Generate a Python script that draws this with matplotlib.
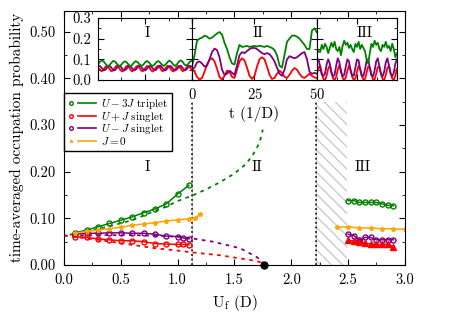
import numpy as np
import matplotlib
matplotlib.use('Agg')
import matplotlib.pyplot as plt
from matplotlib.lines import Line2D
from matplotlib.legend_handler import HandlerBase
from matplotlib.ticker import MultipleLocator

plt.rcParams['font.family'] = ['cmr10', 'DejaVu Serif']
plt.rcParams['mathtext.fontset'] = 'cm'
plt.rcParams['axes.unicode_minus'] = False
plt.rcParams['axes.formatter.use_mathtext'] = True
plt.rcParams['hatch.linewidth'] = 1.0

GREEN, RED, PURPLE, ORANGE = 'green', 'red', 'purple', 'orange'

# ---- main panel: region I (numerics) ----
u_trip_I = [0.1, 0.2, 0.3, 0.4, 0.5, 0.6, 0.7, 0.8, 0.9, 1.0, 1.1]
trip_I = [0.069, 0.075, 0.082, 0.089, 0.096, 0.103, 0.112, 0.120, 0.131, 0.152, 0.171]
u_sing_I = [0.1, 0.2, 0.3, 0.4, 0.5, 0.6, 0.7, 0.8, 0.9, 1.0, 1.05, 1.1]
plus_I = [0.061, 0.059, 0.056, 0.054, 0.052, 0.052, 0.050, 0.046, 0.045, 0.044, 0.044, 0.043]
minus_I = [0.066, 0.068, 0.068, 0.069, 0.069, 0.068, 0.068, 0.066, 0.062, 0.061, 0.058, 0.056]
u_j0_I = [0.1, 0.2, 0.3, 0.4, 0.5, 0.6, 0.7, 0.8, 0.9, 1.0, 1.1, 1.15, 1.2]
j0_I = [0.068, 0.072, 0.075, 0.078, 0.081, 0.085, 0.088, 0.091, 0.094, 0.097, 0.099, 0.100, 0.109]

# ---- main panel: analytic curves (dashed) ----
u_trip_th = [0.05, 0.2, 0.4, 0.6, 0.8, 0.9, 1.0, 1.14, 1.25, 1.37, 1.5, 1.6, 1.66, 1.7, 1.73, 1.75]
trip_th = [0.065, 0.072, 0.083, 0.096, 0.116, 0.125, 0.137, 0.150, 0.162, 0.177, 0.196, 0.216,
           0.235, 0.252, 0.270, 0.290]
u_plus_th = [0.0, 0.3, 0.58, 0.8, 1.0, 1.13, 1.37, 1.5, 1.61, 1.7, 1.74, 1.76]
plus_th = [0.063, 0.054, 0.044, 0.036, 0.031, 0.027, 0.021, 0.016, 0.012, 0.008, 0.005, 0.0]
u_minus_th = [0.0, 0.3, 0.6, 0.9, 1.02, 1.13, 1.31, 1.55, 1.69, 1.73, 1.76]
minus_th = [0.063, 0.064, 0.064, 0.062, 0.060, 0.057, 0.050, 0.036, 0.018, 0.011, 0.0]
u_crit = 1.76

# ---- main panel: region III ----
u_III = [2.5, 2.55, 2.6, 2.65, 2.7, 2.75, 2.8, 2.85, 2.9]
trip_III = [0.138, 0.138, 0.134, 0.134, 0.134, 0.134, 0.131, 0.128, 0.127]
minus_III = [0.066, 0.063, 0.054, 0.059, 0.059, 0.054, 0.054, 0.054, 0.054]
plus_III = [0.053, 0.051, 0.049, 0.047, 0.045, 0.044, 0.044, 0.045, 0.038]
u_j0_III = [2.4, 2.5, 2.6, 2.7, 2.8, 2.9, 3.0]
j0_III = [0.082, 0.081, 0.080, 0.079, 0.078, 0.0775, 0.0765]

border_I_II = 1.123
border_II_III = 2.222
hatch_end = 2.495
border_top = 0.35

# ---- inset time traces ----
green_tI = [0.075, 0.088, 0.095, 0.090, 0.078, 0.068, 0.070, 0.082, 0.092, 0.090, 0.079, 0.069, 0.070,
            0.081, 0.090, 0.088, 0.077, 0.068, 0.071, 0.083, 0.091, 0.087, 0.076, 0.069, 0.073, 0.085,
            0.092, 0.086, 0.075, 0.068, 0.074, 0.086, 0.092, 0.085, 0.074, 0.068, 0.075, 0.087, 0.094,
            0.087, 0.075, 0.068, 0.076, 0.089, 0.095, 0.088, 0.075, 0.069, 0.078, 0.090, 0.094]
red_tI = [0.060, 0.050, 0.042, 0.050, 0.065, 0.068, 0.055, 0.043, 0.045, 0.060, 0.070, 0.062, 0.047,
          0.041, 0.052, 0.067, 0.068, 0.054, 0.042, 0.046, 0.061, 0.069, 0.060, 0.045, 0.043, 0.056,
          0.068, 0.065, 0.050, 0.041, 0.048, 0.063, 0.069, 0.058, 0.044, 0.044, 0.058, 0.069, 0.064,
          0.049, 0.041, 0.050, 0.065, 0.068, 0.055, 0.043, 0.046, 0.060, 0.069, 0.061, 0.047]
purple_tI = [0.065, 0.068, 0.058, 0.047, 0.050, 0.063, 0.070, 0.061, 0.049, 0.047, 0.058, 0.068, 0.066,
             0.053, 0.046, 0.052, 0.065, 0.069, 0.059, 0.048, 0.049, 0.061, 0.069, 0.064, 0.051, 0.046,
             0.054, 0.066, 0.068, 0.057, 0.047, 0.050, 0.063, 0.070, 0.061, 0.049, 0.047, 0.058, 0.068,
             0.066, 0.053, 0.046, 0.052, 0.065, 0.069, 0.059, 0.048, 0.050, 0.062, 0.069, 0.064]

green_tII = [0.065, 0.120, 0.190, 0.200, 0.205, 0.215, 0.210, 0.200, 0.205, 0.215, 0.225, 0.232, 0.220,
             0.180, 0.150, 0.110, 0.080, 0.075, 0.130, 0.170, 0.160, 0.162, 0.165, 0.160, 0.163, 0.165,
             0.162, 0.166, 0.163, 0.160, 0.165, 0.160, 0.155, 0.145, 0.120, 0.070, 0.060, 0.120, 0.185,
             0.200, 0.215, 0.215, 0.210, 0.200, 0.185, 0.170, 0.150, 0.150, 0.240, 0.250, 0.230]
purple_tII = [0.050, 0.060, 0.085, 0.090, 0.080, 0.065, 0.070, 0.100, 0.135, 0.152, 0.145, 0.110, 0.050,
              0.025, 0.030, 0.045, 0.035, 0.025, 0.070, 0.120, 0.135, 0.130, 0.140, 0.150, 0.155, 0.155,
              0.150, 0.140, 0.130, 0.125, 0.130, 0.125, 0.110, 0.090, 0.060, 0.030, 0.020, 0.050, 0.100,
              0.115, 0.110, 0.105, 0.110, 0.120, 0.130, 0.135, 0.100, 0.040, 0.030, 0.035, 0.030]
red_tII = [0.055, 0.040, 0.015, 0.002, 0.010, 0.040, 0.075, 0.098, 0.105, 0.090, 0.055, 0.015, 0.002,
           0.020, 0.045, 0.040, 0.015, 0.010, 0.050, 0.090, 0.105, 0.095, 0.060, 0.020, 0.005, 0.020,
           0.065, 0.100, 0.110, 0.100, 0.065, 0.025, 0.005, 0.010, 0.030, 0.045, 0.035, 0.015, 0.010,
           0.025, 0.045, 0.058, 0.050, 0.030, 0.015, 0.010, 0.020, 0.030, 0.020, 0.012, 0.010]

green_tIII = [0.130, 0.140, 0.135, 0.170, 0.150, 0.175, 0.160, 0.130, 0.155, 0.180, 0.160, 0.185, 0.150,
              0.140, 0.160, 0.120, 0.165, 0.190, 0.170, 0.180, 0.155, 0.170, 0.150, 0.135, 0.175, 0.160,
              0.185, 0.150, 0.170, 0.155, 0.140, 0.100, 0.080, 0.130, 0.175, 0.160, 0.190, 0.170, 0.180,
              0.150, 0.140, 0.170, 0.160, 0.185, 0.155, 0.165, 0.140, 0.175, 0.150, 0.110, 0.130]
purple_tIII = [0.090, 0.100, 0.060, 0.025, 0.020, 0.030, 0.075, 0.100, 0.080, 0.035, 0.018, 0.025, 0.070,
               0.105, 0.085, 0.040, 0.018, 0.025, 0.065, 0.100, 0.090, 0.045, 0.020, 0.022, 0.060, 0.100,
               0.095, 0.050, 0.020, 0.020, 0.050, 0.095, 0.100, 0.060, 0.025, 0.018, 0.045, 0.090, 0.105,
               0.065, 0.028, 0.018, 0.040, 0.085, 0.105, 0.070, 0.030, 0.018, 0.035, 0.080, 0.100]
red_tIII = [0.030, 0.060, 0.070, 0.035, 0.005, 0.000, 0.020, 0.055, 0.070, 0.040, 0.008, 0.000, 0.015,
            0.050, 0.072, 0.045, 0.010, 0.000, 0.012, 0.045, 0.070, 0.050, 0.015, 0.000, 0.008, 0.040,
            0.068, 0.055, 0.020, 0.002, 0.005, 0.035, 0.065, 0.060, 0.025, 0.003, 0.003, 0.030, 0.062,
            0.065, 0.030, 0.005, 0.000, 0.025, 0.058, 0.068, 0.035, 0.008, 0.000, 0.020, 0.055]

legend_labels = [r'$U-3J$ triplet', r'$U+J$ singlet', r'$U-J$ singlet', r'$J=0$']


class MarkerLineHandler(HandlerBase):
    # marker on the left, short line on the right
    def create_artists(self, legend, orig, xdescent, ydescent, width, height, fontsize, trans):
        y = 0.5 * height - ydescent
        x0 = -xdescent
        mk = Line2D([x0 + 0.12 * width], [y], ls='none', marker=orig.get_marker(),
                    ms=orig.get_markersize(), mec=orig.get_color(),
                    mfc=orig.get_markerfacecolor(), mew=orig.get_markeredgewidth())
        ln = Line2D([x0 + 0.36 * width, x0 + width], [y, y], color=orig.get_color(),
                    lw=orig.get_linewidth())
        mk.set_transform(trans)
        ln.set_transform(trans)
        return [mk, ln]


fig = plt.figure(figsize=(4.52, 3.14), dpi=100)
ax = fig.add_axes([0.1416, 0.156, 0.754, 0.81])

# region boundaries and hatched gap
for xb in (border_I_II, border_II_III):
    ax.plot([xb, xb], [0, border_top], color='0.8', lw=0.7, zorder=1)
    ax.plot([xb, xb], [0, border_top], color='black', lw=1.1, ls=(0, (1.2, 1.8)), zorder=2)
ax.fill_between([border_II_III, hatch_end], 0, border_top, facecolor='none',
                edgecolor='0.8', hatch='\\\\\\', lw=0, zorder=0)

# analytic dashed curves
ax.plot(u_trip_th, trip_th, color=GREEN, lw=1.3, ls=(0, (2, 2.5)))
ax.plot(u_minus_th, minus_th, color=PURPLE, lw=1.3, ls=(0, (2, 2.5)))
ax.plot(u_plus_th, plus_th, color=RED, lw=1.3, ls=(0, (2, 2.5)))
ax.plot([u_crit], [0], 'o', color='black', ms=5, clip_on=False, zorder=6)

mk = dict(mfc='none', ms=3.6, mew=1.0, lw=1.1)
ax.plot(u_trip_I, trip_I, color=GREEN, marker='o', **mk)
ax.plot(u_sing_I, minus_I, color=PURPLE, marker='o', **mk)
ax.plot(u_sing_I, plus_I, color=RED, marker='o', **mk)
ax.plot(u_j0_I, j0_I, color=ORANGE, marker='*', ms=3.5, lw=1.1)

ax.plot(u_III, trip_III, color=GREEN, marker='o', **mk)
ax.plot(u_III, minus_III, color=PURPLE, marker='o', **mk)
ax.plot([u_III[2]], [minus_III[2]], 's', color=PURPLE, ms=3.6)
ax.plot(u_III, plus_III, color=RED, marker='^', ms=3.8, lw=1.1)
ax.plot(u_j0_III, j0_III, color=ORANGE, marker='*', ms=3.5, lw=1.1)

ax.text(0.73, 0.21, 'I', fontsize=11, ha='center', va='center')
ax.text(1.70, 0.21, 'II', fontsize=11, ha='center', va='center')
ax.text(2.63, 0.21, 'III', fontsize=11, ha='center', va='center')

ax.set_xlim(0, 3.0)
ax.set_ylim(0, 0.545)
ax.xaxis.set_major_locator(MultipleLocator(0.5))
ax.xaxis.set_minor_locator(MultipleLocator(0.25))
ax.yaxis.set_major_locator(MultipleLocator(0.1))
ax.yaxis.set_minor_locator(MultipleLocator(0.05))
ax.xaxis.set_major_formatter(matplotlib.ticker.FormatStrFormatter('%.1f'))
ax.yaxis.set_major_formatter(matplotlib.ticker.FormatStrFormatter('%.2f'))
ax.tick_params(which='both', direction='in', top=True, right=True, labelsize=10.5, pad=6)
ax.tick_params(which='major', length=4)
ax.tick_params(which='minor', length=2)
ax.set_xlabel(r'U$_\mathrm{f}$ (D)', fontsize=11)
ax.set_ylabel('time-averaged occupation probability', fontsize=11, labelpad=4)

handles = [Line2D([], [], color=GREEN, marker='o', mfc='none', ms=2.6, mew=1.0, lw=1.2),
           Line2D([], [], color=RED, marker='o', mfc='none', ms=2.6, mew=1.0, lw=1.2),
           Line2D([], [], color=PURPLE, marker='o', mfc='none', ms=2.6, mew=1.0, lw=1.2),
           Line2D([], [], color=ORANGE, marker='*', mfc=ORANGE, ms=2.6, mew=0.5, lw=1.2)]
leg = ax.legend(handles, legend_labels, loc='upper left', bbox_to_anchor=(0.0, 0.676),
                borderaxespad=0, fontsize=8, handlelength=2.5, handletextpad=0.45,
                borderpad=0.35, labelspacing=-0.12, fancybox=False, edgecolor='black',
                framealpha=1, handler_map={Line2D: MarkerLineHandler()})
leg.get_frame().set_linewidth(1.0)

# ---- inset panels ----
ins_bottom, ins_h = 0.7452, 0.1975
panels = [([0.2168, ins_bottom, 0.208, ins_h], green_tI, purple_tI, red_tI, 'I', 26.4),
          ([0.4248, ins_bottom, 0.2765, ins_h], green_tII, purple_tII, red_tII, 'II', 26.5),
          ([0.7013, ins_bottom, 0.177, ins_h], green_tIII, purple_tIII, red_tIII, 'III', 30.0)]
for i, (rect, g, p, r, name, xt) in enumerate(panels):
    ins = fig.add_axes(rect)
    for vals, col in ((r, RED), (p, PURPLE), (g, GREEN)):
        ins.plot(np.linspace(0, 50, len(vals)), vals, color=col, lw=1.3)
    ins.set_xlim(0, 50)
    ins.set_ylim(0, 0.3)
    ins.xaxis.set_major_locator(MultipleLocator(25))
    ins.xaxis.set_minor_locator(MultipleLocator(12.5))
    ins.yaxis.set_major_locator(MultipleLocator(0.1))
    ins.yaxis.set_minor_locator(MultipleLocator(0.05))
    ins.yaxis.set_major_formatter(matplotlib.ticker.FormatStrFormatter('%.1f'))
    ins.tick_params(which='both', direction='in', top=True, right=True, labelsize=10.5,
                    pad=5, labelleft=(i == 0), labelbottom=(i == 1))
    ins.tick_params(which='major', length=4)
    ins.tick_params(which='minor', length=2)
    ins.text(xt, 0.226, name, fontsize=11, ha='center', va='center')
    if i == 1:
        ins.set_xlabel('t (1/D)', fontsize=11, labelpad=3)

fig.savefig('out.png', dpi=100)
